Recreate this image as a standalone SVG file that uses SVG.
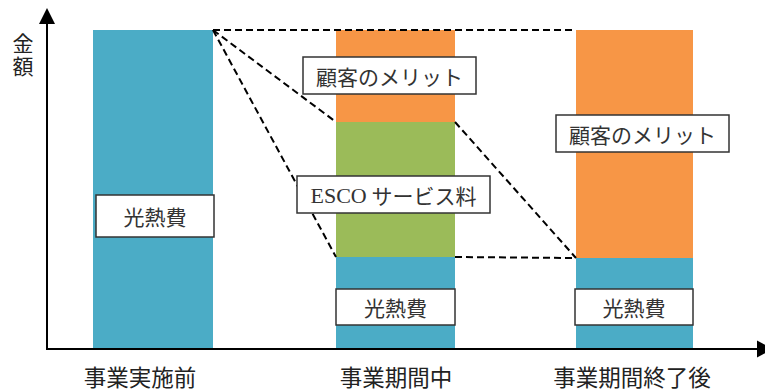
<svg xmlns="http://www.w3.org/2000/svg" width="765" height="390" viewBox="0 0 765 390">
<style>
.blue{fill:#4BACC6}
.orange{fill:#F79646}
.green{fill:#9BBB59}
.box{fill:#fff;stroke:#333;stroke-width:1.5}
.t{font-family:"Noto Sans CJK JP","Noto Sans CJK SC",sans-serif;font-size:21px;fill:#333;text-anchor:middle;dominant-baseline:central}
.ax{font-family:"Noto Sans CJK JP","Noto Sans CJK SC",sans-serif;font-size:21px;fill:#222}
.xl{font-family:"Noto Sans CJK JP","Noto Sans CJK SC",sans-serif;font-size:22.5px;fill:#222;text-anchor:middle;dominant-baseline:central}
.dash{fill:none;stroke:#000;stroke-width:2;stroke-dasharray:7 4}
.axis{stroke:#000;stroke-width:2;fill:none}
</style>
<rect width="765" height="390" fill="#fff"/>
<g id="bar-before">
<rect class="blue" x="93" y="30" width="120" height="318"/>
</g>
<g id="bar-during">
<rect class="orange" x="336" y="30" width="119" height="92"/>
<rect class="green" x="336" y="122" width="119" height="135"/>
<rect class="blue" x="336" y="257" width="119" height="91"/>
</g>
<g id="bar-after">
<rect class="orange" x="576" y="30" width="117" height="228"/>
<rect class="blue" x="576" y="258" width="117" height="90"/>
</g>
<g id="connectors">
<line class="dash" x1="213" y1="30" x2="576" y2="30"/>
<line class="dash" x1="213" y1="30" x2="336" y2="122"/>
<line class="dash" x1="213" y1="30" x2="336" y2="257"/>
<line class="dash" x1="455" y1="122" x2="576" y2="258"/>
<line class="dash" x1="455" y1="257" x2="576" y2="258"/>
</g>
<g id="axes">
<line class="axis" x1="47" y1="349" x2="47" y2="22"/>
<polygon points="39,24 55,24 47,8" fill="#000"/>
<line class="axis" x1="46" y1="349" x2="760" y2="349"/>
<polygon points="757,340.5 757,357.5 773,349" fill="#000"/>
</g>
<g id="label-amount">
<text class="ax" x="23" y="33" writing-mode="tb" letter-spacing="2">金額</text>
</g>
<g id="label-cost-before">
<rect class="box" x="96" y="195" width="118" height="42"/>
<text class="t" x="155" y="216">光熱費</text>
</g>
<g id="label-merit-during">
<rect class="box" x="303" y="57" width="173" height="37"/>
<text class="t" x="389.5" y="75.5">顧客のメリット</text>
</g>
<g id="label-esco">
<rect class="box" x="297" y="176" width="193" height="37"/>
<text class="t" x="393.5" y="194.5"><tspan font-family="Liberation Serif,serif" font-size="22px">ESCO</tspan> サービス料</text>
</g>
<g id="label-cost-during">
<rect class="box" x="336" y="289" width="119" height="36"/>
<text class="t" x="395.5" y="307">光熱費</text>
</g>
<g id="label-merit-after">
<rect class="box" x="556" y="115" width="173" height="37"/>
<text class="t" x="642.5" y="133.5">顧客のメリット</text>
</g>
<g id="label-cost-after">
<rect class="box" x="575" y="289" width="118" height="36"/>
<text class="t" x="634" y="307">光熱費</text>
</g>
<g id="x-labels">
<text class="xl" x="140" y="375.5">事業実施前</text>
<text class="xl" x="396" y="375.5">事業期間中</text>
<text class="xl" x="632" y="375.5">事業期間終了後</text>
</g>
</svg>
